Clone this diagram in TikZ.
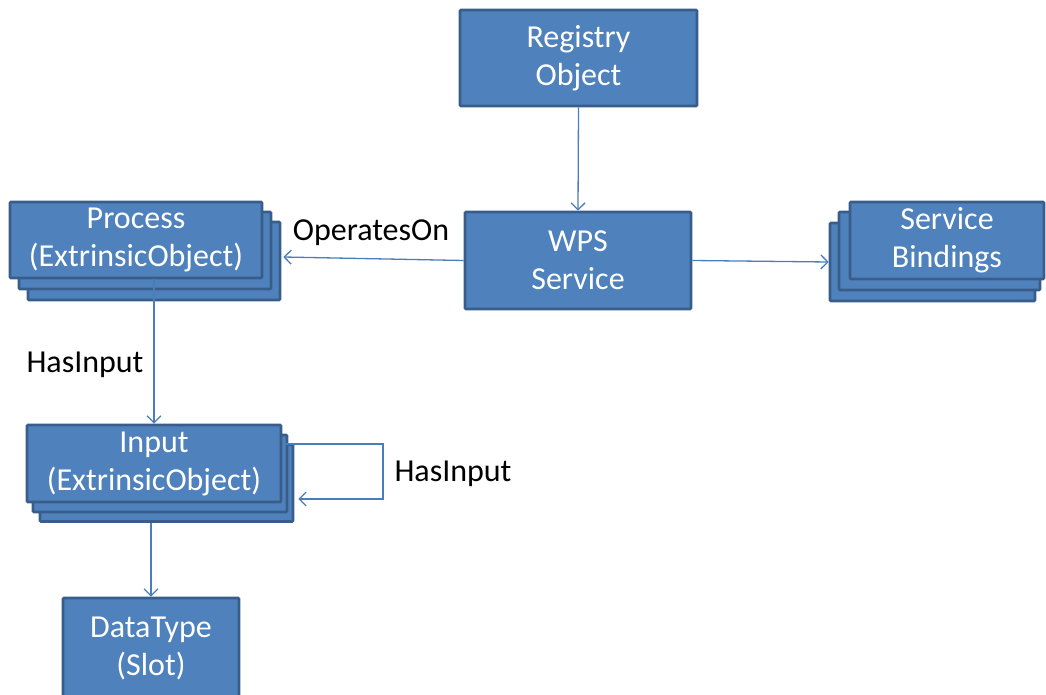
\documentclass[tikz,border=0pt]{standalone}
\usepackage{fontspec}
\setmainfont{Carlito}
\usetikzlibrary{arrows.meta}
\definecolor{boxfill}{HTML}{4F81BD}
\definecolor{boxline}{HTML}{385D8A}
\definecolor{linkline}{HTML}{4A7EBB}
\tikzset{
  box/.style={draw=boxline, fill=boxfill, line width=2.6pt, rounded corners=1pt,
    text=white, align=center, inner sep=0pt,
    font=\fontsize{32}{38}\selectfont},
  link/.style={draw=linkline, line width=1.3pt,
    -{Straight Barb[length=7pt,width=14pt,line width=1.3pt]}},
  lbl/.style={text=black, font=\fontsize{32}{36}\selectfont, inner sep=0pt}
}
\begin{document}
\begin{tikzpicture}[x=1pt,y=-1pt]
\useasboundingbox (0,0) rectangle (1046,695);
\clip (0,0) rectangle (1046,695);

% single boxes
\node[box, minimum width=237pt, minimum height=96pt] (reg) at (578.5,58) {Registry\\Object};
\node[box, minimum width=226pt, minimum height=97pt] (wps) at (578,260.5) {WPS\\Service};

% Process stack (back to front)
\node[box, minimum width=252pt, minimum height=78pt] (procB) at (154,261) {};
\node[box, minimum width=252pt, minimum height=77pt] (procM) at (145,250.5) {};
\node[box, minimum width=252pt, minimum height=76pt] (proc) at (136,240) {Process\\(ExtrinsicObject)};

% Service Bindings stack (back to front)
\node[box, minimum width=205pt, minimum height=78pt] (sbB) at (932.5,262) {};
\node[box, minimum width=201pt, minimum height=78pt] (sbM) at (939.5,251) {};
\node[box, minimum width=194pt, minimum height=77pt] (sb) at (947,240.5) {Service\\Bindings};

% Input stack (back to front)
\node[box, minimum width=253pt, minimum height=77pt] (inpB) at (166.5,483) {};
\node[box, minimum width=254pt, minimum height=77pt] (inpM) at (160,473.5) {};
\node[box, minimum width=254pt, minimum height=77pt] (inp) at (154,463.5) {Input\\(ExtrinsicObject)};

% DataType box runs past the lower edge
\node[box, minimum width=176pt, minimum height=100pt] (dt) at (151,648) {DataType\\(Slot)};

% connectors
\draw[link] (reg.south) -- (wps.north);
\draw[link] (wps.west) -- ([xshift=2pt,yshift=4pt]procB.east);
\draw[link] (wps.east) -- (sbB.west);
\draw[link] (proc.south -| procB.south) -- (inp.north);
\draw[link] (dt.north |- inpB.south) -- (dt.north);

\coordinate (loopA) at (383,444);
\coordinate (loopB) at (383,499);
\draw[link] ([xshift=-4pt]inpM.east |- loopA) -- (loopA) -- (loopB) -- ([xshift=4pt]inpB.east |- loopB);

% connector labels
\node[lbl] (opOn) at (371,233) {OperatesOn};
\node[lbl] (hasIn1) at (85,365) {HasInput};
\node[lbl] (hasIn2) at (453,474) {HasInput};
\end{tikzpicture}
\end{document}
